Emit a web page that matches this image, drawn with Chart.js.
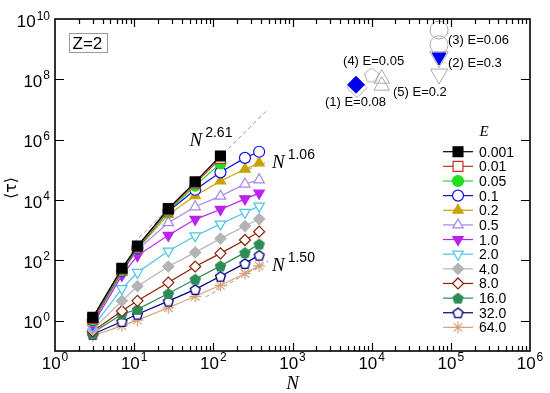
<!DOCTYPE html>
<html>
<head>
<meta charset="utf-8">
<script src="https://cdn.jsdelivr.net/npm/chart.js@4/dist/chart.umd.min.js"></script>
<style>
html,body{margin:0;padding:0;background:#fff;}
#wrap{width:550px;height:393px;position:relative;}
</style>
</head>
<body>
<div id="wrap"><canvas id="c"></canvas></div>
<script>
// ---------------- DATA ----------------
const N = [3, 7, 11, 27, 59, 123, 251, 379];
const E_LABELS = ['0.001','0.01','0.05','0.1','0.2','0.5','1.0','2.0','4.0','8.0','16.0','32.0','64.0'];
const tauE0001 = [1.3, 55, 300, 5200, 4.0e4, 2.9e5];
const tauE001  = [1.2, 52, 285, 4800, 3.6e4, 2.4e5];
const tauE005  = [1.1, 48, 270, 4300, 3.0e4, 1.65e5];
const tauE01   = [1.05, 45, 255, 4200, 2.2e4, 8.3e4, 2.5e5, 4.0e5];
const tauE02   = [0.95, 42, 240, 3300, 1.4e4, 4.3e4, 1.05e5, 1.7e5];
const tauE05   = [0.85, 40, 225, 1780, 6000, 1.35e4, 3.4e4, 4.7e4];
const tauE1    = [0.75, 32, 145, 680, 2300, 4900, 1.1e4, 1.7e4];
const tauE2    = [0.62, 11.7, 40, 205, 650, 1600, 3900, 6300];
const tauE4    = [0.52, 4.6, 14, 63, 185, 530, 1380, 2350];
const tauE8    = [0.45, 2.1, 4.6, 18.5, 63, 172, 475, 900];
const tauE16   = [0.4, 1.66, 2.4, 8.0, 24, 66, 182, 350];
const tauE32   = [0.36, 0.95, 1.66, 4.5, 11, 30, 80, 150];
const tauE64   = [0.32, 0.68, 1.05, 2.7, 6.5, 15, 37, 66];
const SERIES = [tauE0001, tauE001, tauE005, tauE01, tauE02, tauE05, tauE1, tauE2, tauE4, tauE8, tauE16, tauE32, tauE64];

// power-law guide lines (read endpoints)
const fit261N = [10, 496],  fit261T = [395, 1.05e7];
const fit106N = [230, 496], fit106T = [8.5e4, 1.93e5];
const fit150N = [80, 496],  fit150T = [6.2, 96];
const FIT_EXP = ['2.61', '1.06', '1.50'];

// inset snapshot markers (top right)
const insetBlueN = [6340, 7.1e4];
const insetBlueT = [6.6e7, 5.5e8];
const insetGrayN = [6530, 1.0e4, 1.34e4, 1.34e4, 7.1e4, 7.1e4, 7.1e4, 7.1e4];
const insetGrayT = [5.3e7, 1.4e8, 1.05e8, 6.2e7, 4.3e9, 1.4e9, 5.5e8, 1.5e8];
const INSET_LABELS = ['(1) E=0.08', '(2) E=0.3', '(3) E=0.06', '(4) E=0.05', '(5) E=0.2'];

const X_TICK_EXP = [0, 1, 2, 3, 4, 5, 6];
const Y_TICK_EXP = [0, 2, 4, 6, 8, 10];

// ---------------- STYLES ----------------
function makePentagon(size, stroke, fill, lw){
  const c = document.createElement('canvas');
  c.width = size; c.height = size;
  const g = c.getContext('2d');
  const cx = size/2, cy = size/2 + 0.6, r = size/2 - lw;
  g.beginPath();
  for(let i=0;i<5;i++){
    const a = -Math.PI/2 + i*2*Math.PI/5;
    const px = cx + r*Math.cos(a), py = cy + r*Math.sin(a);
    if(i===0) g.moveTo(px,py); else g.lineTo(px,py);
  }
  g.closePath();
  g.fillStyle = fill; g.fill();
  g.lineWidth = lw; g.strokeStyle = stroke; g.stroke();
  return c;
}
const pentFilled = makePentagon(13, '#2e8b57', '#2e8b57', 1.2);
const pentOpen = makePentagon(13, '#000080', '#ffffff', 1.3);
const pentGray = makePentagon(17, '#aaaaaa', 'rgba(0,0,0,0)', 1);

const STY = [
  {c:'#000000', bg:'#000000', ps:'rect', r:7, rot:0},
  {c:'#c83020', bg:'#ffffff', ps:'rect', r:7, rot:0},
  {c:'#22dd22', bg:'#22dd22', ps:'circle', r:5.5, rot:0},
  {c:'#1010e0', bg:'#ffffff', ps:'circle', r:5.5, rot:0},
  {c:'#c8a400', bg:'#c8a400', ps:'triangle', r:6, rot:0},
  {c:'#a884ee', bg:'#ffffff', ps:'triangle', r:6, rot:0},
  {c:'#bb22ee', bg:'#bb22ee', ps:'triangle', r:6, rot:180},
  {c:'#4cc4e4', bg:'#ffffff', ps:'triangle', r:6, rot:180},
  {c:'#b4b4b4', bg:'#b4b4b4', ps:'rectRot', r:5.5, rot:0},
  {c:'#8b2000', bg:'#ffffff', ps:'rectRot', r:5.5, rot:0},
  {c:'#2e8b57', bg:'#2e8b57', ps:pentFilled, r:6, rot:0},
  {c:'#000080', bg:'#ffffff', ps:pentOpen, r:6, rot:0},
  {c:'#d8a07c', bg:'#d8a07c', ps:'star', r:6, rot:0}
];

const datasets = [];
SERIES.forEach((s, i) => {
  const st = STY[i];
  datasets.push({
    label: E_LABELS[i],
    data: s.map((v, k) => ({x: N[k], y: v})),
    borderColor: st.c, backgroundColor: st.bg,
    pointBorderColor: st.c, pointBackgroundColor: st.bg,
    pointStyle: st.ps, pointRadius: st.r, pointRotation: st.rot,
    pointBorderWidth: 1.2, borderWidth: 1.2, tension: 0, showLine: true
  });
});
datasets.push({
  label: 'insetBlue',
  data: insetBlueN.map((v,k)=>({x:v, y:insetBlueT[k]})),
  showLine: false,
  pointStyle: ['rectRot', 'triangle'], pointRotation: [0, 180], pointRadius: [8.5, 8],
  pointBackgroundColor: '#0000f0', pointBorderColor: '#0000f0', pointBorderWidth: 1
});
datasets.push({
  label: 'insetGray',
  data: insetGrayN.map((v,k)=>({x:v, y:insetGrayT[k]})),
  showLine: false,
  pointStyle: ['rectRot', pentGray, 'triangle', 'triangle', 'circle', 'circle', 'triangle', 'triangle'],
  pointRotation: [0, 0, 0, 0, 0, 0, 180, 180],
  pointRadius: [10, 8, 9, 9, 9, 9, 10.5, 10],
  pointBackgroundColor: 'rgba(0,0,0,0)', pointBorderColor: '#aaaaaa', pointBorderWidth: 1
});
[[fit261N, fit261T], [fit106N, fit106T], [fit150N, fit150T]].forEach(([xs, ys], i) => {
  datasets.push({
    label: 'fit' + FIT_EXP[i],
    data: xs.map((v,k)=>({x:v, y:ys[k]})),
    borderColor: '#999999', borderWidth: 1, borderDash: [4, 3],
    pointRadius: 0, showLine: true
  });
});

// ---------------- DECORATION PLUGIN ----------------
const SANS = '"Liberation Sans", Arial, Helvetica, sans-serif';
const SERIF = '"Liberation Serif", "Times New Roman", serif';

function powWidth(ctx, base, exp, bf, ef){
  ctx.font = bf; const w1 = ctx.measureText(base).width;
  ctx.font = ef; const w2 = ctx.measureText(exp).width;
  return [w1, w2];
}

const deco = {
  id: 'deco',
  afterDatasetsDraw(chart){
    const {ctx, chartArea: a, scales: {x, y}} = chart;
    ctx.save();
    // frame
    ctx.strokeStyle = '#000'; ctx.lineWidth = 1.6;
    ctx.strokeRect(a.left, a.top, a.right - a.left, a.bottom - a.top);
    // x ticks
    ctx.lineWidth = 1.2;
    ctx.beginPath();
    for (let e = 0; e < 6; e++) {
      for (let m = 1; m <= 9; m++) {
        const px = Math.round(x.getPixelForValue(m * Math.pow(10, e))) + 0.5;
        const len = m === 1 ? 8 : 5;
        if (m === 1 && e === 0) continue;
        ctx.moveTo(px, a.bottom); ctx.lineTo(px, a.bottom - len);
        ctx.moveTo(px, a.top); ctx.lineTo(px, a.top + len);
      }
    }
    // y ticks
    Y_TICK_EXP.forEach(e => {
      if (e === 10) return;
      const py = Math.round(y.getPixelForValue(Math.pow(10, e))) + 0.5;
      ctx.moveTo(a.left, py); ctx.lineTo(a.left + 9, py);
      ctx.moveTo(a.right, py); ctx.lineTo(a.right - 9, py);
    });
    ctx.stroke();

    const bf = '17px ' + SANS, ef = '12px ' + SANS;
    ctx.fillStyle = '#000';
    ctx.textBaseline = 'alphabetic'; ctx.textAlign = 'left';
    // x tick labels
    X_TICK_EXP.forEach(e => {
      const cx = x.getPixelForValue(Math.pow(10, e));
      const [w1, w2] = powWidth(ctx, '10', String(e), bf, ef);
      const sx = cx - (w1 + w2 + 1) / 2;
      ctx.font = bf; ctx.fillText('10', sx, a.bottom + 18);
      ctx.font = ef; ctx.fillText(String(e), sx + w1 + 1, a.bottom + 10);
    });
    // y tick labels
    Y_TICK_EXP.forEach(e => {
      const cy = y.getPixelForValue(Math.pow(10, e));
      const [w1, w2] = powWidth(ctx, '10', String(e), bf, ef);
      const rx = a.left - 5;
      const sx = rx - w1 - w2 - 1;
      const bl = e === 10 ? cy + 8 : cy + 7.5;
      ctx.font = bf; ctx.fillText('10', sx, bl);
      ctx.font = ef; ctx.fillText(String(e), sx + w1 + 1, bl - 7.5);
    });
    // axis titles
    ctx.font = 'italic 19px ' + SERIF; ctx.textAlign = 'center';
    ctx.fillText('N', x.getPixelForValue(1000), a.bottom + 38);
    ctx.save();
    ctx.translate(16, 188); ctx.rotate(-Math.PI / 2);
    ctx.font = '16px "DejaVu Sans", ' + SANS; ctx.textAlign = 'center';
    ctx.fillText('\u27E8\u03C4\u27E9', 0, 0);
    ctx.restore();

    // Z=2 box
    ctx.textAlign = 'left';
    ctx.strokeStyle = '#9a9a9a'; ctx.lineWidth = 1;
    ctx.strokeRect(69.5, 33.5, 38, 19);
    ctx.font = '17px ' + SANS; ctx.fillStyle = '#000';
    ctx.fillText('Z=2', 72.5, 48.5);

    // power-law labels
    const fitLab = [
      {exp: FIT_EXP[0], nx: 50, ty: 6.3e5},
      {exp: FIT_EXP[1], nx: 551, ty: 1.2e5},
      {exp: FIT_EXP[2], nx: 551, ty: 44}
    ];
    fitLab.forEach(f => {
      const px = x.getPixelForValue(f.nx), py = y.getPixelForValue(f.ty);
      ctx.font = 'italic 19px ' + SERIF;
      const wN = ctx.measureText('N').width;
      ctx.fillText('N', px, py);
      ctx.font = '14px ' + SANS;
      ctx.fillText(f.exp, px + wN + 3, py - 9);
    });

    // inset labels
    const insetPos = [
      {t: INSET_LABELS[0], nx: 2570, ty: 1.7e7},
      {t: INSET_LABELS[1], nx: 9.2e4, ty: 3.5e8},
      {t: INSET_LABELS[2], nx: 9.2e4, ty: 2.0e9},
      {t: INSET_LABELS[3], nx: 4350, ty: 3.8e8},
      {t: INSET_LABELS[4], nx: 1.86e4, ty: 3.6e7}
    ];
    ctx.font = '13px ' + SANS; ctx.textBaseline = 'middle';
    insetPos.forEach(p => {
      ctx.fillText(p.t, x.getPixelForValue(p.nx), y.getPixelForValue(p.ty));
    });

    // legend
    ctx.textBaseline = 'alphabetic';
    ctx.font = 'italic 15px ' + SERIF; ctx.textAlign = 'center';
    ctx.fillText('E', 484, 136);
    ctx.textAlign = 'left';
    const hp = Chart.helpers && Chart.helpers.drawPoint;
    E_LABELS.forEach((lab, i) => {
      const st = STY[i];
      const ly = 151.7 + i * 14.64;
      ctx.strokeStyle = st.c; ctx.lineWidth = 1.2;
      ctx.beginPath(); ctx.moveTo(443, ly); ctx.lineTo(473, ly); ctx.stroke();
      ctx.fillStyle = st.bg; ctx.strokeStyle = st.c;
      if (hp) hp(ctx, {pointStyle: st.ps, rotation: st.rot, radius: st.r, borderWidth: 1.2}, 458, ly);
      ctx.fillStyle = '#000'; ctx.font = '14px ' + SANS;
      ctx.fillText(lab, 479, ly + 5);
    });
    ctx.restore();
  }
};

new Chart(document.getElementById('c'), {
  type: 'scatter',
  data: {datasets},
  options: {
    responsive: true, maintainAspectRatio: false, animation: false,
    layout: {padding: {left: 55, right: 20, top: 19, bottom: 42}},
    plugins: {legend: {display: false}, tooltip: {enabled: false}},
    scales: {
      x: {type: 'logarithmic', min: 1, max: 1e6, display: false},
      y: {type: 'logarithmic', min: 0.1, max: 1e10, display: false}
    },
    elements: {line: {tension: 0}}
  },
  plugins: [deco]
});
</script>
</body>
</html>
